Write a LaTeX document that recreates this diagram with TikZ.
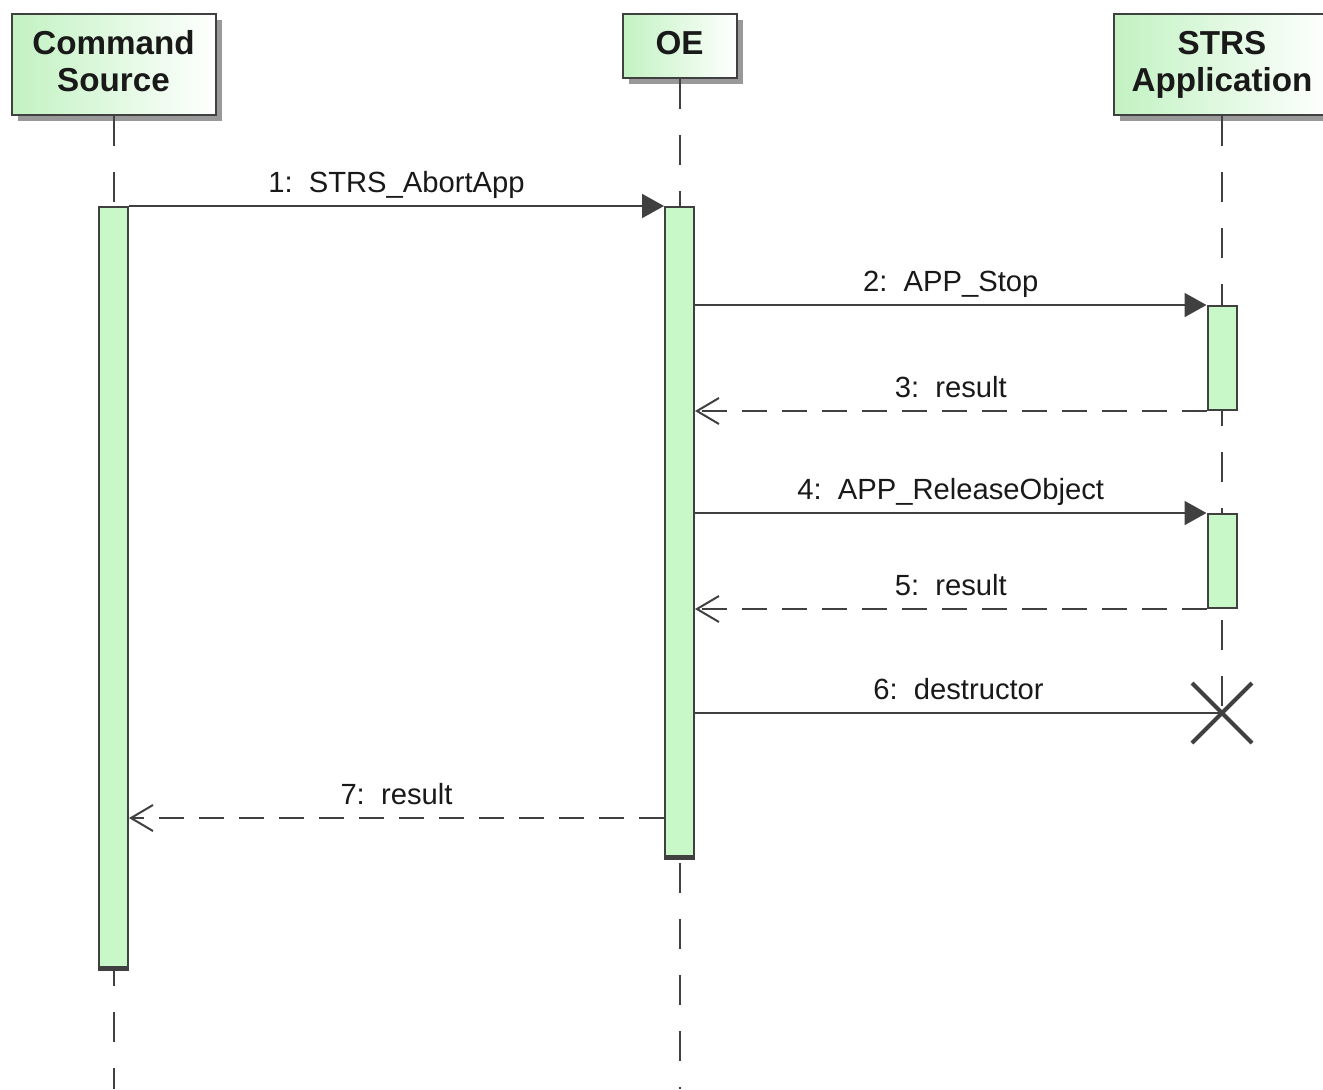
\documentclass[tikz,border=0pt]{standalone}
\usepackage{fontspec}
\setmainfont{Liberation Sans}
\usetikzlibrary{arrows.meta,shadows,shapes.misc}
\definecolor{hdrgreen}{RGB}{194,242,194}
\definecolor{actgreen}{RGB}{200,248,200}
\definecolor{ink}{RGB}{64,64,64}
\begin{document}
\begin{tikzpicture}[x=0.5pt,y=-0.5pt,
  header/.style={draw=ink, line width=1pt, left color=hdrgreen, right color=white,
    font=\bfseries\fontsize{16.6}{18.5}\selectfont, align=center, inner sep=0pt,
    text=black!90,
    drop shadow={shadow xshift=3pt, shadow yshift=-3pt, fill=black!40, opacity=1}},
  act/.style={draw=ink, line width=1pt, fill=actgreen, minimum width=14.5pt,
    inner sep=0pt, anchor=north},
  lifeline/.style={draw=ink, line width=1pt, dash pattern=on 15pt off 13pt},
  msg/.style={draw=ink, line width=1pt, -{Triangle[length=11pt,width=12pt]}},
  ret/.style={draw=ink, line width=1pt, dash pattern=on 12.5pt off 7.5pt,
    -{Straight Barb[length=11pt,width=13pt,line width=1pt]}},
  plain/.style={draw=ink, line width=1pt},
  lbl/.style={font=\fontsize{14.6}{18}\selectfont, anchor=base, yshift=7pt, text=black!90, inner sep=0pt}
]
\useasboundingbox (0,0) rectangle (1323,1089);

% lifeline heads
\node[header, minimum width=102pt, minimum height=50.5pt, text depth=4pt] (cs) at (113.5,64.5) {Command\\Source};
\node[header, minimum width=57pt, minimum height=32pt, text depth=3pt] (oe) at (679.5,46) {OE};
\node[header, minimum width=108pt, minimum height=50.5pt] (app) at (1222,64.5) {STRS\\Application};

% end points of the lifelines
\coordinate (csend) at (113.5,1089);
\coordinate (oeend) at (679.5,1089);
\coordinate (r7) at (400,818);

% destruction mark of the application
\node[cross out, draw=ink, line width=2pt, minimum size=28pt, inner sep=0pt] (dx) at (1222,713) {};

% lifelines
\draw[lifeline] (cs.south) -- (csend);
\draw[lifeline] (oe.south) -- (oeend);
\draw[lifeline] (app.south) -- (dx.center);

% activation bars
\node[act, minimum height=380pt] (csact) at (113.5,206) {};
\node[act, minimum height=324.5pt] (oeact) at (679.5,206) {};
\node[act, minimum height=52pt] (s1) at (1222,305) {};
\node[act, minimum height=47pt] (s2) at (1222,513) {};
\draw[ink, line width=2.5pt] (csact.south west) -- (csact.south east);
\draw[ink, line width=2.5pt] (oeact.south west) -- (oeact.south east);

% messages
\draw[msg] (csact.north east) -- node[lbl] {1:\ \ STRS\_AbortApp} (oeact.north west);
\draw[msg] (oeact.east |- s1.north) -- node[lbl] {2:\ \ APP\_Stop} (s1.north west);
\draw[ret] (s1.south west) -- node[lbl] {3:\ \ result} (oeact.east |- s1.south);
\draw[msg] (oeact.east |- s2.north) -- node[lbl] {4:\ \ APP\_ReleaseObject} (s2.north west);
\draw[ret] (s2.south west) -- node[lbl] {5:\ \ result} (oeact.east |- s2.south);
\draw[plain] (oeact.east |- dx) -- node[lbl] {6:\ \ destructor} (dx.center);
\draw[ret] (oeact.west |- r7) -- node[lbl] {7:\ \ result} (csact.east |- r7);
\end{tikzpicture}
\end{document}
